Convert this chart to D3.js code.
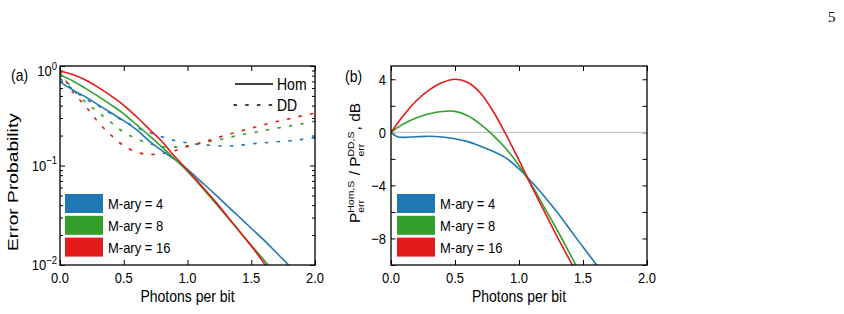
<!DOCTYPE html>
<html>
<head>
<meta charset="utf-8">
<script src="https://cdn.jsdelivr.net/npm/d3@7"></script>
<style>
body { margin: 0; background: #fff; }
svg { display: block; font-family: "Liberation Sans", Arial, sans-serif; }
</style>
</head>
<body>
<svg id="chart" width="844" height="314"></svg>
<script>
// ---- data ----
const seriesNames = ['M-ary = 4', 'M-ary = 8', 'M-ary = 16'];

// (a) homodyne, error probability vs photons per bit
const homX   = [0, 0.1, 0.2, 0.3, 0.4, 0.5, 0.6, 0.7, 0.8, 0.9, 1.0, 1.1, 1.2, 1.3, 1.4, 1.5, 1.6, 1.7, 1.8];
const homM4  = [0.692, 0.575, 0.490, 0.407, 0.339, 0.282, 0.229, 0.176, 0.141, 0.115, 0.0912, 0.0700, 0.0537, 0.0407, 0.0309, 0.0234, 0.0178, 0.0132, 0.0098];
const homM8  = [0.818, 0.708, 0.596, 0.495, 0.407, 0.331, 0.257, 0.1995, 0.153, 0.116, 0.0871, 0.0631, 0.0447, 0.0316, 0.0224, 0.0158, 0.0112, 0.0079, 0.0056];
const homM16 = [0.885, 0.822, 0.724, 0.610, 0.501, 0.403, 0.309, 0.232, 0.174, 0.123, 0.0902, 0.0646, 0.0462, 0.0324, 0.0224, 0.0155, 0.0105, 0.0072, 0.0049];

// (a) direct detection
const ddX   = [0, 0.1, 0.2, 0.3, 0.4, 0.5, 0.6, 0.7, 0.8, 0.9, 1.0, 1.1, 1.2, 1.3, 1.4, 1.5, 1.6, 1.7, 1.8, 1.9, 2.0];
const ddM4  = [0.750, 0.582, 0.468, 0.398, 0.331, 0.279, 0.241, 0.215, 0.194, 0.178, 0.169, 0.162, 0.159, 0.157, 0.159, 0.165, 0.169, 0.173, 0.177, 0.183, 0.1905];
const ddM8  = [0.851, 0.589, 0.432, 0.343, 0.272, 0.216, 0.186, 0.166, 0.155, 0.153, 0.158, 0.168, 0.177, 0.188, 0.201, 0.212, 0.225, 0.237, 0.249, 0.263, 0.279];
const ddM16 = [0.902, 0.550, 0.394, 0.272, 0.202, 0.158, 0.136, 0.129, 0.132, 0.141, 0.155, 0.168, 0.184, 0.202, 0.219, 0.237, 0.257, 0.277, 0.296, 0.316, 0.335];

// (b) ratio in dB
const dbX   = [0, 0.05, 0.1, 0.2, 0.3, 0.4, 0.5, 0.6, 0.7, 0.8, 0.9, 1.0, 1.1, 1.2, 1.3, 1.4, 1.5, 1.6, 1.7];
const dbM4  = [0, -0.33, -0.38, -0.33, -0.30, -0.35, -0.48, -0.70, -1.05, -1.45, -1.95, -2.75, -3.75, -4.85, -6.05, -7.35, -8.65, -9.9, -11.1];
const dbM8  = [0, 0.35, 0.65, 1.1, 1.4, 1.57, 1.58, 1.25, 0.6, -0.25, -1.25, -2.5, -4.0, -5.7, -7.4, -9.2, -11.0, -12.8, -14.6];
const dbM16 = [0, 0.67, 1.3, 2.4, 3.2, 3.75, 4.0, 3.75, 2.95, 1.55, -0.2, -2.1, -4.1, -6.0, -7.9, -9.7, -11.5, -13.3, -15.1];

const xTicks = [0, 0.5, 1.0, 1.5, 2.0];
const logMajor = [0.01, 0.1, 1];
const dbTicks = [-10, -8, -6, -4, -2, 0, 2, 4];
const dbLabels = [-8, -4, 0, 4];

// ---- layout ----
const colors = ['#1f78b4', '#33a02c', '#e31a1c'];
const plotTop = 66, plotBottom = 265;
const svg = d3.select('#chart');

// text slightly stretched vertically, like the source figure
function txt(g, x, y, s, size, anchor) {
    return g.append('text')
        .attr('transform', 'translate(' + x + ',' + y + ') scale(1,1.15)')
        .attr('font-size', size)
        .attr('text-anchor', anchor || 'start')
        .text(s);
}

function ticks(g, axisFn, scale, values, size, pos) {
    g.append('g')
        .attr('transform', pos)
        .call(axisFn(scale).tickValues(values).tickSize(size).tickFormat(''))
        .call(a => a.select('.domain').remove())
        .selectAll('line').attr('stroke-width', 1);
}

function clip(id, x, y, w, h) {
    svg.append('clipPath').attr('id', id)
        .append('rect').attr('x', x).attr('y', y).attr('width', w).attr('height', h);
}

function legendBoxes(g, x, textX) {
    seriesNames.forEach((name, i) => {
        const y = 194 + i * 21.8;
        g.append('rect').attr('x', x).attr('y', y).attr('width', 38).attr('height', 19).attr('fill', colors[i]);
        txt(g, textX, y + 9.5 + 5.4, name, 13);
    });
}

// rotated y label, stretched to a target length
function yLabel(parts, bx, cy, len) {
    const g = svg.append('g');
    const inner = g.append('g');
    let cx = 0;
    parts.forEach(p => {
        if (p.sup !== undefined) {
            const a = inner.append('text').attr('x', cx).attr('y', -6.5).attr('font-size', 9.5).text(p.sup);
            const b = inner.append('text').attr('x', cx).attr('y', 3.5).attr('font-size', 9.5).text(p.sub);
            cx += Math.max(a.node().getComputedTextLength(), b.node().getComputedTextLength()) + 1;
        } else {
            const t = inner.append('text').attr('x', cx).attr('y', 0).attr('font-size', 14).text(p.t);
            cx += t.node().getComputedTextLength();
        }
    });
    g.attr('transform', 'translate(' + bx + ',' + cy + ') rotate(-90) scale(' + (len / cx) + ',1)');
    inner.attr('transform', 'translate(' + (-cx / 2) + ',0)');
}

// ================= panel (a) =================
const xA = d3.scaleLinear().domain([0, 2]).range([60, 315]);
const yA = d3.scaleLog().domain([0.01, 1]).range([plotBottom, plotTop]);
const gA = svg.append('g');
clip('clipA', 60, plotTop, 255, plotBottom - plotTop);

const logMinor = yA.ticks().filter(v => !logMajor.some(m => Math.abs(m - v) < 1e-9));
ticks(gA, d3.axisBottom, xA, xTicks, -5, 'translate(0,' + plotBottom + ')');
ticks(gA, d3.axisTop, xA, xTicks, -5, 'translate(0,' + plotTop + ')');
ticks(gA, d3.axisLeft, yA, logMajor, -5, 'translate(60,0)');
ticks(gA, d3.axisLeft, yA, logMinor, -3, 'translate(60,0)');
ticks(gA, d3.axisRight, yA, logMajor, -5, 'translate(315,0)');
ticks(gA, d3.axisRight, yA, logMinor, -3, 'translate(315,0)');

const lineA = (xs) => d3.line()
    .x((d, i) => xA(xs[i]))
    .y(d => yA(d))
    .curve(d3.curveCatmullRom.alpha(0.5));

const plotA = gA.append('g').attr('clip-path', 'url(#clipA)');
[ddM4, ddM8, ddM16].forEach((s, i) => {
    plotA.append('path').attr('d', lineA(ddX)(s))
        .attr('fill', 'none').attr('stroke', colors[i]).attr('stroke-width', 1.6)
        .attr('stroke-dasharray', '3.5,8.2');
});
[homM4, homM8, homM16].forEach((s, i) => {
    plotA.append('path').attr('d', lineA(homX)(s))
        .attr('fill', 'none').attr('stroke', colors[i]).attr('stroke-width', 1.6);
});

gA.append('rect').attr('x', 60).attr('y', plotTop).attr('width', 255).attr('height', plotBottom - plotTop)
    .attr('fill', 'none').attr('stroke', '#000').attr('stroke-width', 1.3);

xTicks.forEach(v => txt(gA, xA(v), 283, d3.format('.1f')(v), 13, 'middle'));
logMajor.forEach(v => {
    const e = Math.round(Math.log10(v));
    const y = yA(v) + 5.4 + (e === 0 ? 5 : 0);
    const t = txt(gA, 57, y, '10', 13, 'end');
    t.append('tspan').attr('dy', -6).attr('font-size', 9.5).text(e < 0 ? '\u2212' + (-e) : e);
});

legendBoxes(gA, 65, 108);
gA.append('line').attr('x1', 235).attr('x2', 273).attr('y1', 84).attr('y2', 84)
    .attr('stroke', '#000').attr('stroke-width', 1.6);
txt(gA, 277, 84 + 5.8, 'Hom', 14);
gA.append('line').attr('x1', 233.5).attr('x2', 273).attr('y1', 105).attr('y2', 105)
    .attr('stroke', '#000').attr('stroke-width', 1.6).attr('stroke-dasharray', '3.5,8.2');
txt(gA, 277, 105 + 5.8, 'DD', 14);

txt(gA, 11, 81, '(a)', 14);
txt(gA, 187.5, 302, 'Photons per bit', 14, 'middle');
yLabel([{ t: 'Error Probability' }], 18, 182, 138);

// ================= panel (b) =================
const xB = d3.scaleLinear().domain([0, 2]).range([391, 647]);
const yB = d3.scaleLinear().domain([-10, 5]).range([plotBottom, plotTop]);
const gB = svg.append('g');
clip('clipB', 391, plotTop, 256, plotBottom - plotTop);

ticks(gB, d3.axisBottom, xB, xTicks, -5, 'translate(0,' + plotBottom + ')');
ticks(gB, d3.axisTop, xB, xTicks, -5, 'translate(0,' + plotTop + ')');
ticks(gB, d3.axisLeft, yB, dbTicks, -4.5, 'translate(391,0)');
ticks(gB, d3.axisRight, yB, dbTicks, -4.5, 'translate(647,0)');

gB.append('line').attr('x1', xB(0)).attr('x2', xB(2)).attr('y1', yB(0)).attr('y2', yB(0))
    .attr('stroke', '#c8c8c8').attr('stroke-width', 1.2);

const lineB = d3.line()
    .x((d, i) => xB(dbX[i]))
    .y(d => yB(d))
    .curve(d3.curveCatmullRom.alpha(0.5));

const plotB = gB.append('g').attr('clip-path', 'url(#clipB)');
[dbM4, dbM8, dbM16].forEach((s, i) => {
    plotB.append('path').attr('d', lineB(s))
        .attr('fill', 'none').attr('stroke', colors[i]).attr('stroke-width', 1.6);
});

gB.append('rect').attr('x', 391).attr('y', plotTop).attr('width', 256).attr('height', plotBottom - plotTop)
    .attr('fill', 'none').attr('stroke', '#000').attr('stroke-width', 1.3);

xTicks.forEach(v => txt(gB, xB(v), 283, d3.format('.1f')(v), 13, 'middle'));
dbLabels.forEach(v => txt(gB, 386, yB(v) + 5.4, d3.format('d')(v), 13, 'end'));

legendBoxes(gB, 397, 440);
txt(gB, 345, 82, '(b)', 14);
txt(gB, 519, 302, 'Photons per bit', 14, 'middle');
yLabel([
    { t: 'P' }, { sup: 'Hom,S', sub: 'err' },
    { t: '\u00a0/\u00a0P' }, { sup: 'DD,S', sub: 'err' },
    { t: ',\u00a0dB' }
], 360, 163, 120);

// page number
svg.append('text').attr('x', 828).attr('y', 22)
    .attr('font-family', '"Liberation Serif", serif').attr('font-size', 15).text('5');
</script>
</body>
</html>
